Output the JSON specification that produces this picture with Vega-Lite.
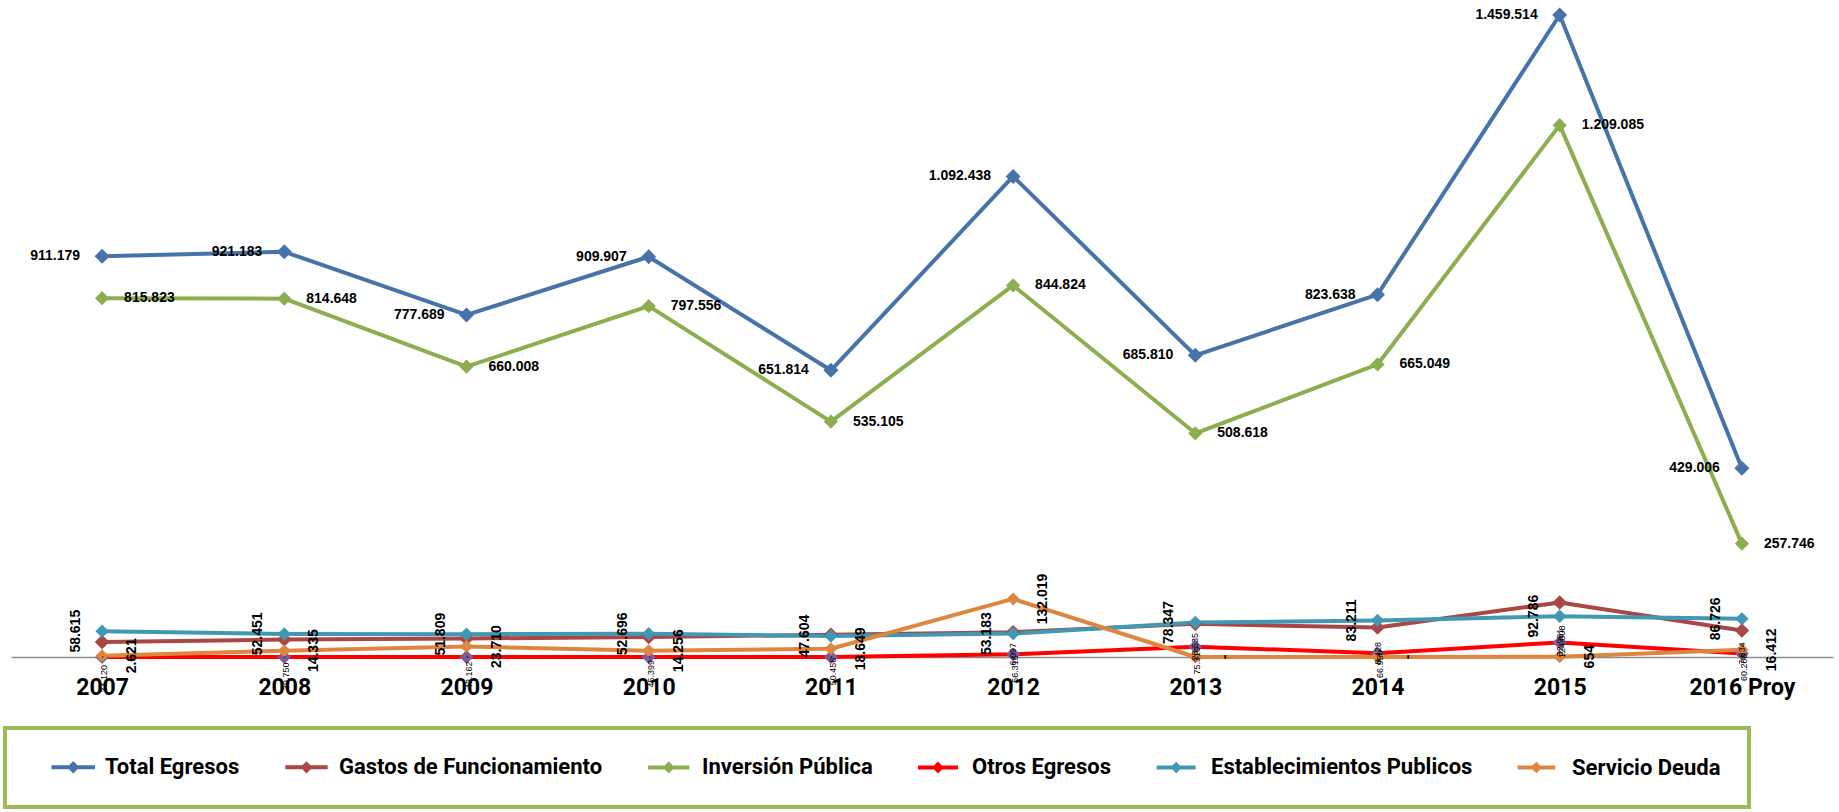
{
  "$schema": "https://vega.github.io/schema/vega-lite/v6.json",
  "width": 1822,
  "height": 656,
  "autosize": {"type": "none"},
  "padding": {"left": 11, "top": 1, "right": 6, "bottom": 155},
  "background": "white",
  "config": {
    "view": {"stroke": null},
    "font": "Liberation Sans",
    "locale": {"number": {"decimal": ",", "thousands": ".", "grouping": [3], "currency": ["$", ""]}}
  },
  "data": {
    "values": [
      {"anio": "2007", "serie": "Total Egresos", "valor": 911179},
      {"anio": "2008", "serie": "Total Egresos", "valor": 921183},
      {"anio": "2009", "serie": "Total Egresos", "valor": 777689},
      {"anio": "2010", "serie": "Total Egresos", "valor": 909907},
      {"anio": "2011", "serie": "Total Egresos", "valor": 651814},
      {"anio": "2012", "serie": "Total Egresos", "valor": 1092438},
      {"anio": "2013", "serie": "Total Egresos", "valor": 685810},
      {"anio": "2014", "serie": "Total Egresos", "valor": 823638},
      {"anio": "2015", "serie": "Total Egresos", "valor": 1459514},
      {"anio": "2016 Proy", "serie": "Total Egresos", "valor": 429006},
      {"anio": "2007", "serie": "Gastos de Funcionamiento", "valor": 34120},
      {"anio": "2008", "serie": "Gastos de Funcionamiento", "valor": 39750},
      {"anio": "2009", "serie": "Gastos de Funcionamiento", "valor": 42162},
      {"anio": "2010", "serie": "Gastos de Funcionamiento", "valor": 45399},
      {"anio": "2011", "serie": "Gastos de Funcionamiento", "valor": 50456},
      {"anio": "2012", "serie": "Gastos de Funcionamiento", "valor": 56315},
      {"anio": "2013", "serie": "Gastos de Funcionamiento", "valor": 75310},
      {"anio": "2014", "serie": "Gastos de Funcionamiento", "valor": 66950},
      {"anio": "2015", "serie": "Gastos de Funcionamiento", "valor": 124008},
      {"anio": "2016 Proy", "serie": "Gastos de Funcionamiento", "valor": 60288},
      {"anio": "2007", "serie": "Inversión Pública", "valor": 815823},
      {"anio": "2008", "serie": "Inversión Pública", "valor": 814648},
      {"anio": "2009", "serie": "Inversión Pública", "valor": 660008},
      {"anio": "2010", "serie": "Inversión Pública", "valor": 797556},
      {"anio": "2011", "serie": "Inversión Pública", "valor": 535105},
      {"anio": "2012", "serie": "Inversión Pública", "valor": 844824},
      {"anio": "2013", "serie": "Inversión Pública", "valor": 508618},
      {"anio": "2014", "serie": "Inversión Pública", "valor": 665049},
      {"anio": "2015", "serie": "Inversión Pública", "valor": 1209085},
      {"anio": "2016 Proy", "serie": "Inversión Pública", "valor": 257746},
      {"anio": "2007", "serie": "Otros Egresos", "valor": 0},
      {"anio": "2008", "serie": "Otros Egresos", "valor": 0},
      {"anio": "2009", "serie": "Otros Egresos", "valor": 0},
      {"anio": "2010", "serie": "Otros Egresos", "valor": 0},
      {"anio": "2011", "serie": "Otros Egresos", "valor": 0},
      {"anio": "2012", "serie": "Otros Egresos", "valor": 6097},
      {"anio": "2013", "serie": "Otros Egresos", "valor": 23535},
      {"anio": "2014", "serie": "Otros Egresos", "valor": 8428},
      {"anio": "2015", "serie": "Otros Egresos", "valor": 32981},
      {"anio": "2016 Proy", "serie": "Otros Egresos", "valor": 7834},
      {"anio": "2007", "serie": "Establecimientos Publicos", "valor": 58615},
      {"anio": "2008", "serie": "Establecimientos Publicos", "valor": 52451},
      {"anio": "2009", "serie": "Establecimientos Publicos", "valor": 51809},
      {"anio": "2010", "serie": "Establecimientos Publicos", "valor": 52696},
      {"anio": "2011", "serie": "Establecimientos Publicos", "valor": 47604},
      {"anio": "2012", "serie": "Establecimientos Publicos", "valor": 53183},
      {"anio": "2013", "serie": "Establecimientos Publicos", "valor": 78347},
      {"anio": "2014", "serie": "Establecimientos Publicos", "valor": 83211},
      {"anio": "2015", "serie": "Establecimientos Publicos", "valor": 92786},
      {"anio": "2016 Proy", "serie": "Establecimientos Publicos", "valor": 86726},
      {"anio": "2007", "serie": "Servicio Deuda", "valor": 2621},
      {"anio": "2008", "serie": "Servicio Deuda", "valor": 14335},
      {"anio": "2009", "serie": "Servicio Deuda", "valor": 23710},
      {"anio": "2010", "serie": "Servicio Deuda", "valor": 14256},
      {"anio": "2011", "serie": "Servicio Deuda", "valor": 18649},
      {"anio": "2012", "serie": "Servicio Deuda", "valor": 132019},
      {"anio": "2013", "serie": "Servicio Deuda", "valor": 0},
      {"anio": "2014", "serie": "Servicio Deuda", "valor": 0},
      {"anio": "2015", "serie": "Servicio Deuda", "valor": 654},
      {"anio": "2016 Proy", "serie": "Servicio Deuda", "valor": 16412}
    ]
  },
  "encoding": {
    "x": {
      "field": "anio",
      "type": "ordinal",
      "sort": null,
      "scale": {"type": "point", "padding": 0.5},
      "axis": {
        "title": null,
        "labelAngle": 0,
        "labelFont": "Roboto",
        "labelFontSize": 23,
        "labelFontWeight": "bold",
        "labelColor": "#000000",
        "ticks": false,
        "tickSize": 0,
        "labelPadding": 37,
        "labelBaseline": "alphabetic",
        "domainColor": "#8c8c8c",
        "domainWidth": 1.5,
        "grid": false
      }
    },
    "y": {
      "field": "valor",
      "type": "quantitative",
      "scale": {"domain": [0, 1491340], "nice": false, "zero": true},
      "axis": null
    }
  },
  "layer": [
    {
      "mark": {"type": "line", "strokeWidth": 4, "strokeJoin": "round"},
      "encoding": {
        "stroke": {
          "field": "serie",
          "type": "nominal",
          "scale": {
            "domain": ["Total Egresos", "Gastos de Funcionamiento", "Inversión Pública", "Otros Egresos", "Establecimientos Publicos", "Servicio Deuda"],
            "range": ["#4674AA", "#AA4643", "#8DAE4E", "#FF0000", "#4198B4", "#DD8640"]
          },
          "legend": {
            "title": null,
            "orient": "none",
            "legendX": -6,
            "legendY": 727,
            "direction": "horizontal",
            "symbolType": "M1,0H6.8M3.9,-0.45L4.35,0L3.9,0.45L3.45,0Z",
            "symbolSize": 400,
            "symbolStrokeWidth": 4,
            "labelFont": "Roboto",
            "labelFontSize": 22,
            "labelFontWeight": "bold",
            "labelColor": "#000000",
            "labelOffset": 50,
            "labelLimit": 500,
            "columnPadding": 27,
            "padding": 28,
            "strokeColor": "#9BBB59",
            "encode": {
              "legend": {"update": {"strokeWidth": {"value": 4}}},
              "symbols": {"update": {"size": {"value": 400}, "strokeWidth": {"value": 4}}}
            }
          }
        }
      }
    },
    {
      "mark": {"type": "point", "shape": "diamond", "filled": true, "opacity": 1},
      "encoding": {
        "fill": {
          "field": "serie",
          "type": "nominal",
          "scale": {
            "domain": ["Total Egresos", "Gastos de Funcionamiento", "Inversión Pública", "Otros Egresos", "Establecimientos Publicos", "Servicio Deuda"],
            "range": ["#4674AA", "#AA4643", "#8DAE4E", "#7A5C9B", "#4198B4", "#DD8640"]
          },
          "legend": {
            "title": null,
            "orient": "none",
            "legendX": -6,
            "legendY": 727,
            "direction": "horizontal",
            "symbolType": "M1,0H6.8M3.9,-0.45L4.35,0L3.9,0.45L3.45,0Z",
            "symbolSize": 400,
            "symbolStrokeWidth": 4,
            "labelFont": "Roboto",
            "labelFontSize": 22,
            "labelFontWeight": "bold",
            "labelColor": "#000000",
            "labelOffset": 50,
            "labelLimit": 500,
            "columnPadding": 27,
            "padding": 28,
            "strokeColor": "#9BBB59",
            "encode": {
              "legend": {"update": {"strokeWidth": {"value": 4}}},
              "symbols": {"update": {"size": {"value": 400}, "strokeWidth": {"value": 4}}}
            }
          }
        },
        "size": {
          "field": "serie",
          "type": "nominal",
          "scale": {
            "domain": ["Total Egresos", "Gastos de Funcionamiento", "Inversión Pública", "Otros Egresos", "Establecimientos Publicos", "Servicio Deuda"],
            "range": [225, 169, 225, 110, 110, 110]
          },
          "legend": null
        }
      }
    },
    {
      "transform": [{"filter": "datum.serie === 'Total Egresos'"}],
      "mark": {"type": "text", "align": "right", "baseline": "middle", "dx": -22, "fontSize": 14, "fontWeight": "bold", "color": "#000000"},
      "encoding": {"text": {"field": "valor", "type": "quantitative", "format": ",.0f"}}
    },
    {
      "transform": [{"filter": "datum.serie === 'Inversión Pública'"}],
      "mark": {"type": "text", "align": "left", "baseline": "middle", "dx": 22, "fontSize": 14, "fontWeight": "bold", "color": "#000000"},
      "encoding": {"text": {"field": "valor", "type": "quantitative", "format": ",.0f"}}
    },
    {
      "transform": [{"filter": "datum.serie === 'Establecimientos Publicos'"}],
      "mark": {"type": "text", "angle": 270, "align": "center", "baseline": "middle", "dy": -26, "fontSize": 14, "fontWeight": "bold", "color": "#000000"},
      "encoding": {"text": {"field": "valor", "type": "quantitative", "format": ",.0f"}}
    },
    {
      "transform": [{"filter": "datum.serie === 'Servicio Deuda'"}],
      "mark": {"type": "text", "angle": 270, "align": "center", "baseline": "middle", "dy": 30, "fontSize": 14, "fontWeight": "bold", "color": "#000000"},
      "encoding": {"text": {"condition": {"test": "datum.valor === 0", "value": "-"}, "field": "valor", "type": "quantitative", "format": ",.0f"}}
    },
    {
      "transform": [{"filter": "datum.serie === 'Gastos de Funcionamiento'"}],
      "mark": {"type": "text", "angle": 270, "align": "right", "baseline": "middle", "dx": -23, "dy": 2, "fontSize": 9, "color": "#000000"},
      "encoding": {"text": {"field": "valor", "type": "quantitative", "format": ",.0f"}}
    },
    {
      "transform": [{"filter": "datum.serie === 'Otros Egresos'"}],
      "mark": {"type": "text", "angle": 270, "align": "center", "baseline": "middle", "fontSize": 9, "color": "#000000"},
      "encoding": {"text": {"condition": {"test": "datum.valor === 0", "value": "-"}, "field": "valor", "type": "quantitative", "format": ",.0f"}}
    }
  ]
}
